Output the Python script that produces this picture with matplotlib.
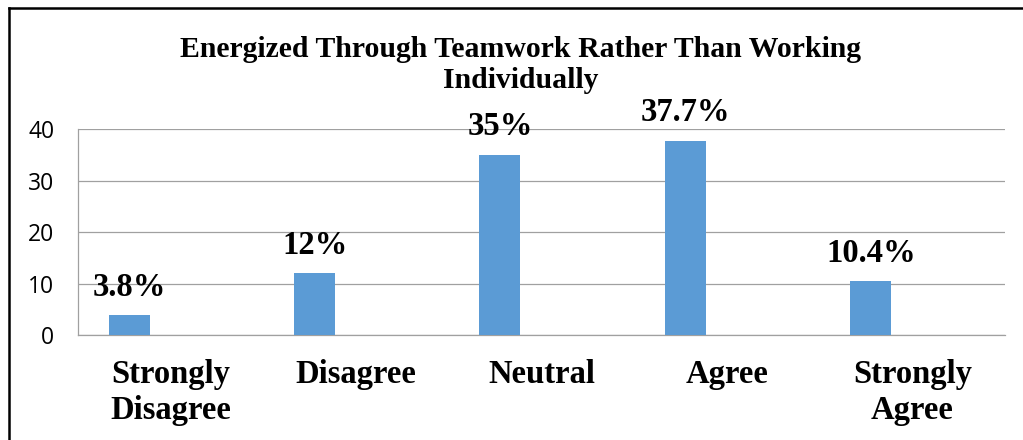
import numpy as np
import matplotlib.pyplot as plt
from matplotlib.lines import Line2D

# respuestas de la encuesta (porcentaje)
categorias = ['Strongly\nDisagree', 'Disagree', 'Neutral', 'Agree', 'Strongly\nAgree']
valores = [3.8, 12, 35, 37.7, 10.4]
etiquetas = ['3.8%', '12%', '35%', '37.7%', '10.4%']
yticks = [0, 10, 20, 30, 40]

titulo = 'Energized Through Teamwork Rather Than Working\nIndividually'

serif = ['Liberation Serif', 'DejaVu Serif']

fig = plt.figure(figsize=(10.23, 4.40), dpi=100)
ax = fig.add_axes([0.0762, 0.2386, 0.9062, 0.4682])

x = np.arange(len(categorias))
ancho = 0.221
ax.bar(x - 0.224, valores, width=ancho, color='#5B9BD5', zorder=3)

# etiquetas de valor encima de cada barra
for xi, v, t in zip(x, valores, etiquetas):
    ax.annotate(t, (xi - 0.224, v), xytext=(0, 14), textcoords='offset points',
                ha='center', va='baseline', fontsize=23.5, fontweight='bold',
                family=serif, zorder=4)

ax.set_xlim(-0.5, len(categorias) - 0.5)
ax.set_ylim(0, 40)
ax.set_yticks(yticks)
ax.set_yticklabels([str(t) for t in yticks], fontsize=16.5, family='Open Sans')
ax.set_xticks(x)
ax.set_xticklabels(categorias, fontsize=23.5, fontweight='bold', family=serif,
                   linespacing=1.22)
ax.tick_params(axis='both', length=0)
ax.tick_params(axis='y', pad=17)
ax.tick_params(axis='x', pad=17)

ax.grid(axis='y', color='#A0A0A0', linewidth=0.9, zorder=0)
for lado in ['top', 'right']:
    ax.spines[lado].set_visible(False)
ax.spines['left'].set_color('#A0A0A0')
ax.spines['bottom'].set_color('#A0A0A0')
ax.spines['left'].set_linewidth(0.9)
ax.spines['bottom'].set_linewidth(0.9)

fig.text(0.509, 1 - 88 / 440, titulo, ha='center', va='baseline', fontsize=21.4,
         fontweight='bold', family=serif, linespacing=1.17)

# marco negro del grafico
bx = 9 / 1023
by = 1 - 8 / 440
fig.add_artist(Line2D([bx, bx], [0, by], color='black', linewidth=1.8))
fig.add_artist(Line2D([bx, 1], [by, by], color='black', linewidth=1.8))

fig.savefig('out.png', dpi=100)
